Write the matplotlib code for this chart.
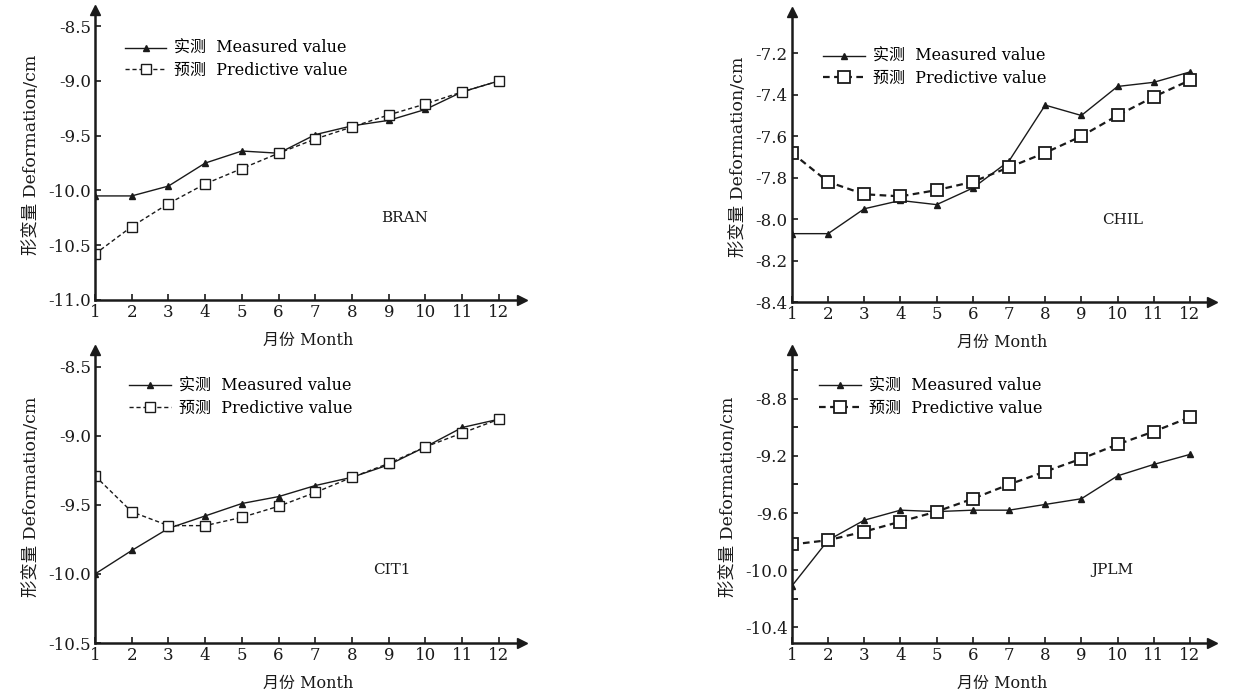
import matplotlib
matplotlib.use("Agg")
import matplotlib.pyplot as plt

plt.rcParams['font.family'] = ['DejaVu Serif', 'Noto Sans CJK SC']
plt.rcParams['axes.unicode_minus'] = False

months = list(range(1, 13))

bran_measured = [-10.05, -10.05, -9.96, -9.75, -9.64, -9.66, -9.49, -9.41, -9.36, -9.26, -9.10, -9.00]
bran_predicted = [-10.58, -10.33, -10.12, -9.94, -9.80, -9.66, -9.53, -9.42, -9.31, -9.21, -9.10, -9.00]
chil_measured = [-8.07, -8.07, -7.95, -7.91, -7.93, -7.85, -7.72, -7.45, -7.50, -7.36, -7.34, -7.29]
chil_predicted = [-7.68, -7.82, -7.88, -7.89, -7.86, -7.82, -7.75, -7.68, -7.60, -7.50, -7.41, -7.33]
cit1_measured = [-10.00, -9.83, -9.67, -9.58, -9.49, -9.44, -9.36, -9.30, -9.21, -9.08, -8.94, -8.88]
cit1_predicted = [-9.29, -9.55, -9.65, -9.65, -9.59, -9.51, -9.41, -9.30, -9.20, -9.08, -8.98, -8.88]
jplm_measured = [-10.11, -9.79, -9.65, -9.58, -9.59, -9.58, -9.58, -9.54, -9.50, -9.34, -9.26, -9.19]
jplm_predicted = [-9.82, -9.79, -9.73, -9.66, -9.59, -9.50, -9.40, -9.31, -9.22, -9.12, -9.03, -8.93]

measured_label = "实测  Measured value"
predicted_label = "预测  Predictive value"
xlabel = "月份 Month"
ylabel = "形变量 Deformation/cm"

INK = '#1a1a1a'


def draw_panel(ax, measured, predicted, name, ylim, yticks, name_pos, legend_pos,
               heavy=False, minor_yticks=None):
    lw_pred = 1.6 if heavy else 1.0
    ms_pred = 9 if heavy else 7
    ax.plot(months, measured, color=INK, lw=1.0, marker='^', ms=4.5,
            label=measured_label)
    ax.plot(months, predicted, color=INK, lw=lw_pred, ls=(0, (3, 2)), marker='s',
            ms=ms_pred, mfc='white', mec=INK, mew=1.3 if heavy else 1.0,
            label=predicted_label)

    ax.set_xlim(1, 12.62)
    ax.set_ylim(*ylim)
    ax.set_xticks(months)
    ax.set_yticks(yticks)
    ax.set_yticklabels([f"{v:.1f}" for v in yticks])
    if minor_yticks is not None:
        ax.set_yticks(minor_yticks, minor=True)
        ax.tick_params(axis='y', which='minor', direction='in', length=4, width=1.2)

    for side in ['top', 'right']:
        ax.spines[side].set_visible(False)
    for side in ['left', 'bottom']:
        ax.spines[side].set_linewidth(1.8)
        ax.spines[side].set_color(INK)
    ax.tick_params(direction='in', length=4, width=1.2, labelsize=12, colors=INK,
                   pad=3)

    # arrow heads on the axes
    ax.plot(1, 0, '>', color=INK, ms=7, transform=ax.transAxes, clip_on=False)
    ax.plot(0, 1, '^', color=INK, ms=7, transform=ax.transAxes, clip_on=False)

    ax.text(name_pos[0], name_pos[1], name, transform=ax.transAxes, fontsize=11,
            ha='center', va='center', color=INK)
    ax.set_xlabel(xlabel, fontsize=11.5, labelpad=8, color=INK)
    ax.set_ylabel(ylabel, fontsize=12.5, labelpad=6, color=INK)
    ax.legend(loc='upper left', bbox_to_anchor=legend_pos, frameon=False,
              fontsize=11.5, handlelength=2.6, handletextpad=0.5,
              labelspacing=0.3, borderpad=0, borderaxespad=0)


fig = plt.figure(figsize=(12.55, 6.96), dpi=100)

ax1 = fig.add_axes([0.0757, 0.569, 0.340, 0.417])
ax2 = fig.add_axes([0.631, 0.566, 0.335, 0.417])
ax3 = fig.add_axes([0.0757, 0.076, 0.340, 0.421])
ax4 = fig.add_axes([0.631, 0.076, 0.335, 0.421])

draw_panel(ax1, bran_measured, bran_predicted, "BRAN", (-11.0, -8.35),
           [-11.0, -10.5, -10.0, -9.5, -9.0, -8.5], (0.726, 0.283), (0.07, 0.895))
draw_panel(ax2, chil_measured, chil_predicted, "CHIL", (-8.4, -7.0),
           [-8.4, -8.2, -8.0, -7.8, -7.6, -7.4, -7.2], (0.786, 0.283), (0.075, 0.875),
           heavy=True)
draw_panel(ax3, cit1_measured, cit1_predicted, "CIT1", (-10.5, -8.38),
           [-10.5, -10.0, -9.5, -9.0, -8.5], (0.696, 0.249), (0.08, 0.905))
draw_panel(ax4, jplm_measured, jplm_predicted, "JPLM", (-10.51, -8.46),
           [-10.4, -10.0, -9.6, -9.2, -8.8], (0.762, 0.249), (0.065, 0.905),
           heavy=True, minor_yticks=[-10.2, -9.8, -9.4, -9.0, -8.6])

fig.savefig("out.png", dpi=100)
